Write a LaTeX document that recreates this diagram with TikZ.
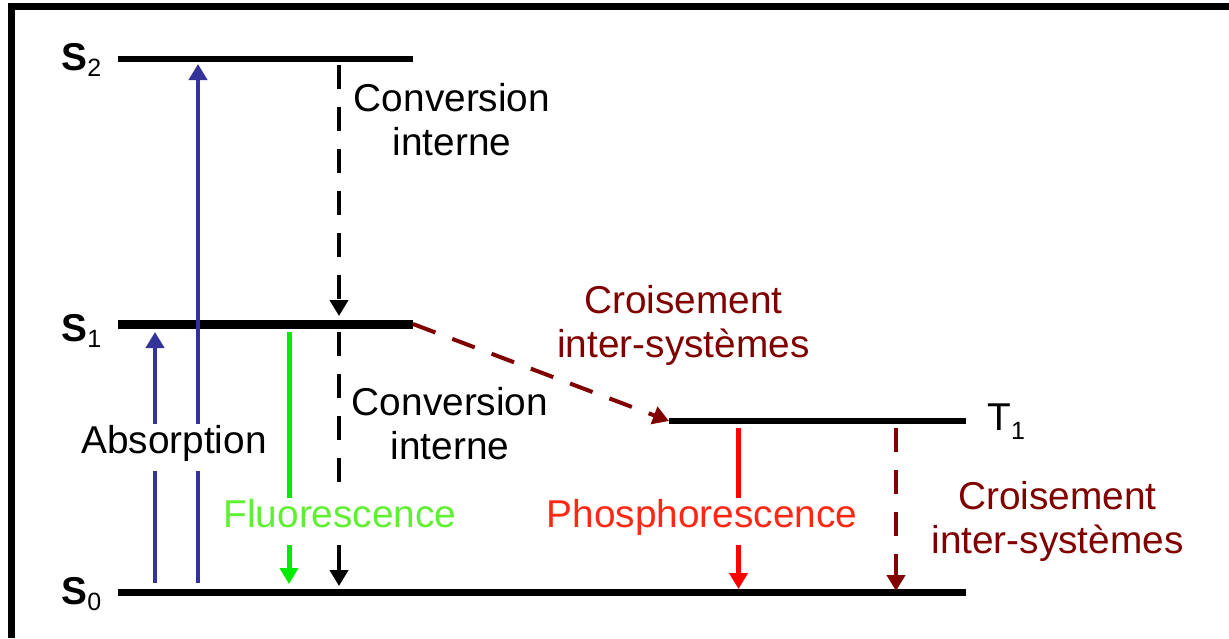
\documentclass[tikz,border=0pt]{standalone}
\usepackage{fontspec}
\setmainfont{Liberation Sans}
\usepackage{xcolor}
\usetikzlibrary{arrows.meta, positioning, calc}

\definecolor{absblue}{RGB}{51,51,153}
\definecolor{fluogreen}{RGB}{0,235,0}
\definecolor{fluotext}{RGB}{95,240,50}
\definecolor{phosred}{RGB}{255,0,0}
\definecolor{phostext}{RGB}{255,40,20}
\definecolor{iscred}{RGB}{128,0,0}

\newcommand{\lvsub}[2][3pt]{\raisebox{-#1}{\fontsize{12.5}{13}\selectfont #2}}

\begin{document}
\begin{tikzpicture}[
	  x=0.5pt, y=-0.5pt,
	  font=\fontsize{19.4}{22}\selectfont,
	  frame/.style={line width=3.25pt},
	  level/.style={line width=3pt},
	  levellabel/.style={inner sep=0pt, anchor=base west},
	  txt/.style={align=center, inner sep=0pt},
	  gap/.style={inner sep=7pt, text height=0.75em, text depth=0.2em, anchor=base},
	  seg/.style={line width=2pt},
	  arrow/.style={-{Triangle[width=9pt,length=8pt]}, line width=2pt},
	  dashes/.style={dash pattern=on 12pt off 9pt}
	]
	
	\useasboundingbox (0,0) rectangle (1229,638);
	
	% Frame (top and left only)
	\draw[frame] (11.25,638) -- (11.25,6.25) -- (1229,6.25);
	
	% Energy levels
	\coordinate (S2w) at (118,59);
	\coordinate (S2e) at (413,59);
	\coordinate (S1w) at (118,324);
	\coordinate (S1e) at (413,324);
	\coordinate (T1w) at (669,421);
	\coordinate (T1e) at (966,421);
	\coordinate (S0w) at (118,592.5);
	\coordinate (S0e) at (966,592.5);
	
	\draw[level] (S2w) -- (S2e);
	\draw[level, line width=4.5pt] (S1w) -- (S1e);
	\draw[level, line width=2.75pt] (T1w) -- (T1e);
	\draw[level, line width=3.5pt] (S0w) -- (S0e);
	
	\node[levellabel] (s2lab) at (61,70) {\textbf{S}\lvsub{2}};
	\node[levellabel] (s1lab) at (61,341) {\textbf{S}\lvsub{1}};
	\node[levellabel] (s0lab) at (61,604) {\textbf{S}\lvsub{0}};
	\node[levellabel] (t1lab) at (987,430) {T\lvsub[4.5pt]{1}};
	
	% Process labels
	\node[gap] (absorb) at (174,453) {Absorption};
	\node[gap, text=fluotext] (fluo) at (340,527) {Fluorescence};
	\node[gap, text=phostext] (phos) at (702,527) {Phosphorescence};
	\node[txt] (ic2) at (452,120) {Conversion\\interne};
	\node[txt] (ic1) at (450,424) {Conversion\\interne};
	\node[txt, text=iscred] (isc1) at (683.5,325.5) {Croisement\\inter-systèmes};
	\node[txt, text=iscred] (isc0) at (1057.5,521) {Croisement\\inter-systèmes};
	
	% Absorption
	\coordinate (a1bot) at (155,583);
	\coordinate (a1top) at (155,332);
	\coordinate (a2bot) at (198,583);
	\coordinate (a2top) at (198,64);
	\draw[seg, absblue] (a1bot) -- (a1bot |- absorb.south);
	\draw[arrow, absblue] (a1top |- absorb.north) -- (a1top);
	\draw[seg, absblue] (a2bot) -- (a2bot |- absorb.south);
	\draw[arrow, absblue] (a2top |- absorb.north) -- (a2top);
	
	% Fluorescence
	\coordinate (flstart) at (289,332);
	\coordinate (flend) at (289,584);
	\draw[seg, fluogreen, line width=2.5pt] (flstart) -- (flstart |- fluo.north);
	\draw[arrow, fluogreen, line width=2.5pt] (flend |- fluo.south) -- (flend);
	
	% Internal conversion
	\coordinate (ic2start) at (339,65);
	\coordinate (ic2end) at (339,316);
	\coordinate (ic1start) at (339,332);
	\coordinate (ic1end) at (339,586);
	\draw[arrow, dashes] (ic2start) -- (ic2end);
	\draw[seg, dashes] (ic1start) -- (ic1start |- fluo.north);
	\draw[arrow] (ic1end |- fluo.south) -- (ic1end);
	
	% Intersystem crossing
	\draw[arrow, dashes, iscred] (S1e) -- (T1w);
	\coordinate (isc0start) at (896,428);
	\coordinate (isc0end) at (896,591);
	\draw[arrow, dashes, iscred] (isc0start) -- (isc0end);
	
	% Phosphorescence
	\coordinate (phstart) at (738.5,428);
	\coordinate (phend) at (738.5,589);
	\draw[seg, phosred, line width=2.5pt] (phstart) -- (phstart |- phos.north);
	\draw[arrow, phosred, line width=2.5pt] (phend |- phos.south) -- (phend);
	
	\end{tikzpicture}
\end{document}
